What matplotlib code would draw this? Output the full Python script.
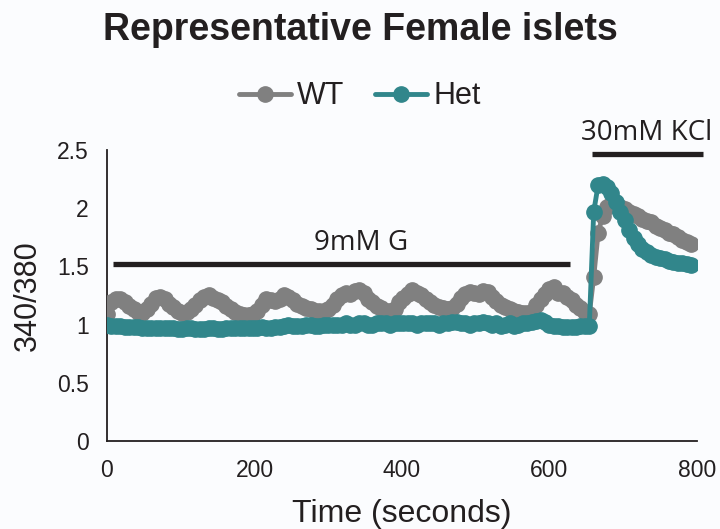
import numpy as np
import matplotlib
matplotlib.use("Agg")
import matplotlib.pyplot as plt

# Ratio 340/380 sampled every 6 s
time_s = np.arange(0, 798, 6)

wt = [
    1.09, 1.19, 1.22, 1.22, 1.19, 1.16, 1.13, 1.11, 1.10, 1.13,
    1.18, 1.23, 1.24, 1.22, 1.18, 1.15, 1.12, 1.10, 1.11, 1.13,
    1.17, 1.21, 1.24, 1.25, 1.23, 1.21, 1.19, 1.16, 1.13, 1.11,
    1.09, 1.08, 1.08, 1.09, 1.12, 1.17, 1.22, 1.21, 1.20, 1.22,
    1.25, 1.24, 1.21, 1.18, 1.16, 1.14, 1.13, 1.12, 1.12, 1.12,
    1.13, 1.17, 1.22, 1.25, 1.27, 1.26, 1.29, 1.30, 1.27, 1.22,
    1.19, 1.16, 1.14, 1.12, 1.12, 1.13, 1.19, 1.23, 1.26, 1.30,
    1.27, 1.25, 1.22, 1.19, 1.17, 1.15, 1.14, 1.13, 1.14, 1.18,
    1.23, 1.26, 1.28, 1.27, 1.26, 1.29, 1.28, 1.24, 1.20, 1.17,
    1.15, 1.13, 1.12, 1.11, 1.10, 1.10, 1.11, 1.17, 1.22, 1.26,
    1.31, 1.32, 1.27, 1.27, 1.24, 1.21, 1.17, 1.14, 1.11, 1.09,
    1.41, 1.79, 1.93, 2.01, 2.04, 2.03, 2.01, 1.99, 1.97, 1.95,
    1.93, 1.91, 1.89, 1.88, 1.85, 1.83, 1.81, 1.79, 1.78, 1.75,
    1.73, 1.71, 1.69,
]

het = [
    1.00, 0.99, 0.99, 0.99, 0.98, 0.98, 0.98, 0.98, 0.97, 0.97,
    0.97, 0.97, 0.97, 0.97, 0.97, 0.97, 0.96, 0.96, 0.97, 0.97,
    0.96, 0.96, 0.96, 0.97, 0.97, 0.96, 0.96, 0.97, 0.97, 0.97,
    0.97, 0.97, 0.97, 0.97, 0.97, 0.98, 0.97, 0.97, 0.98, 0.98,
    0.99, 1.00, 0.99, 0.99, 0.99, 1.00, 1.00, 0.99, 0.99, 1.00,
    1.00, 1.00, 1.00, 1.00, 1.01, 1.00, 1.00, 1.01, 1.01, 1.00,
    1.00, 1.01, 1.01, 1.01, 1.00, 1.01, 1.01, 1.01, 1.01, 1.01,
    1.00, 1.01, 1.01, 1.01, 1.01, 1.00, 1.01, 1.01, 1.02, 1.02,
    1.01, 1.01, 1.00, 1.01, 1.01, 1.02, 1.01, 1.00, 1.01, 0.99,
    1.00, 1.01, 0.99, 1.00, 1.01, 1.01, 1.02, 1.03, 1.04, 1.02,
    1.00, 0.99, 0.99, 0.98, 0.98, 0.98, 0.98, 0.99, 0.99, 0.99,
    1.97, 2.20, 2.21, 2.18, 2.13, 2.05, 1.97, 1.90, 1.81, 1.74,
    1.69, 1.65, 1.62, 1.60, 1.58, 1.57, 1.56, 1.55, 1.54, 1.53,
    1.53, 1.52, 1.51,
]

# treatment bars: (start, end, level, label, label x)
glucose_bar = (8, 628, 1.52, "9mM G", 345)
kcl_bar = (658, 808, 2.47, "30mM KCl", 732)

ink = "#231f20"
gray = "#808080"
teal = "#31868b"
bg = "#fbfcfe"

plt.rcParams["font.family"] = ["Liberation Sans", "DejaVu Sans"]

fig = plt.figure(figsize=(7.2, 5.29), dpi=100, facecolor=bg)
ax = fig.add_axes([0.1486, 0.1664, 0.8194, 0.55])
ax.set_facecolor(bg)

ax.plot(time_s, wt, color=gray, lw=3.5, marker="o", ms=11, label="WT",
        solid_capstyle="round", zorder=3)
ax.plot(time_s, het, color=teal, lw=3.5, marker="o", ms=11, label="Het",
        solid_capstyle="round", zorder=4)

for x0, x1, level, text, tx in (glucose_bar, kcl_bar):
    ax.plot([x0, x1], [level, level], color=ink, lw=3.8, solid_capstyle="butt",
            clip_on=False, zorder=5)
    ax.text(tx, level + 0.06, text, ha="center", va="bottom",
            fontsize=20, color=ink, family=["Open Sans", "DejaVu Sans"])

ax.set_xlim(0, 800)
ax.set_ylim(0, 2.5)
ax.set_xticks([0, 200, 400, 600, 800])
ax.set_yticks([0, 0.5, 1, 1.5, 2, 2.5])
ax.set_yticklabels(["0", "0.5", "1", "1.5", "2", "2.5"])
ax.tick_params(length=0, labelsize=16.5, colors=ink)
ax.tick_params(axis="x", pad=13)
ax.tick_params(axis="y", pad=13)
for side in ("top", "right"):
    ax.spines[side].set_visible(False)
for side in ("left", "bottom"):
    ax.spines[side].set_color(ink)
    ax.spines[side].set_linewidth(1.3)

ax.set_xlabel("Time (seconds)", fontsize=23, color=ink, labelpad=12)
ax.set_ylabel("340/380", fontsize=22, color=ink, labelpad=10)

fig.text(0.5, 0.943, "Representative Female islets", ha="center", va="center",
         fontsize=27, fontweight="bold", color=ink)
fig.legend(loc="center", bbox_to_anchor=(0.5, 0.818), ncol=2, frameon=False,
           fontsize=22, handlelength=1.7, columnspacing=1.0, handletextpad=0.2,
           markerscale=1.0, labelcolor=ink)

fig.savefig("out.png", dpi=100, facecolor=bg)
